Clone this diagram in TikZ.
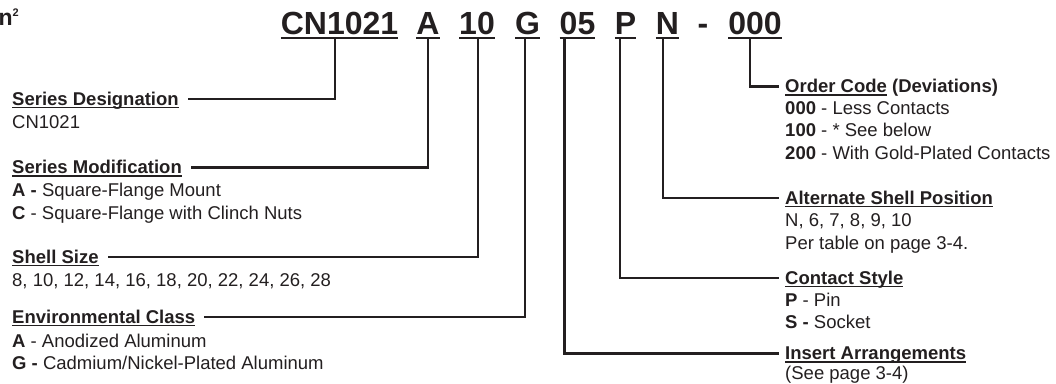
\documentclass[tikz,border=0pt]{standalone}
\usepackage{fontspec}
\setmainfont{Liberation Sans}
\usepackage{xcolor}
\usetikzlibrary{positioning}
\definecolor{ink}{HTML}{231F20}
% underlined header and code text
\newcommand{\uln}[1]{\setbox0\hbox{#1}\rlap{\rule[-3.2pt]{\wd0}{1.4pt}}\box0\relax}
\newcommand{\ulcode}[1]{\setbox0\hbox{#1}\rlap{\rule[-4.7pt]{\wd0}{2pt}}\box0\relax}

\begin{document}
\begin{tikzpicture}[
  x=1pt, y=-1pt,
  every node/.style={inner sep=0pt, text=ink},
  code/.style={font=\fontsize{32}{32}\selectfont\bfseries, anchor=base},
  hd/.style={font=\fontsize{18.5}{22.5}\selectfont\bfseries, anchor=base west},
  txt/.style={font=\fontsize{18.5}{22.5}\selectfont, anchor=base west, align=left},
  lead/.style={draw=ink, line width=2.6pt}
]
\useasboundingbox (0,0) rectangle (1056,383);
\node[font=\fontsize{23}{23}\selectfont\bfseries, anchor=base west] (title) at (-1.5,25) {n\raisebox{9pt}{\fontsize{11}{11}\selectfont 2}};
% part number
\node[code] (cn) at (339.5,34) {\ulcode{CN1021}};
\node[code] (mod) at (428,34) {\ulcode{A}};
\node[code] (size) at (477,34) {\ulcode{10}};
\node[code] (env) at (527.5,34) {\ulcode{G}};
\node[code] (ins) at (577.5,34) {\ulcode{05}};
\node[code] (cont) at (625.5,34) {\ulcode{P}};
\node[code] (pos) at (667.5,34) {\ulcode{N}};
\node[code] (dash) at (703,34) {-};
\node[code] (ord) at (755,34) {\ulcode{000}};
% left column (text nodes sit on their last line)
\node[hd] (sd) at (12,105) {\uln{Series Designation}};
\node[txt] (sdtxt) at ([yshift=-23pt]sd.base west) {CN1021};
\node[hd] (sm) at (12,173.5) {\uln{Series Modification}};
\node[txt] (smtxt) at ([yshift=-45.5pt]sm.base west) {\textbf{A -} Square-Flange Mount\\\textbf{C} - Square-Flange with Clinch Nuts};
\node[hd] (ss) at (12,263) {\uln{Shell Size}};
\node[txt] (sstxt) at ([yshift=-23pt]ss.base west) {8, 10, 12, 14, 16, 18, 20, 22, 24, 26, 28};
\node[hd] (ec) at (12,323) {\uln{Environmental Class}};
\node[txt] (ectxt) at ([yshift=-46.5pt]ec.base west) {\textbf{A} - Anodized Aluminum\\\textbf{G -} Cadmium/Nickel-Plated Aluminum};
% right column
\node[hd] (oc) at (785,92.5) {\uln{Order Code} (Deviations)};
\node[txt] (octxt) at ([yshift=-66.5pt]oc.base west) {\textbf{000} - Less Contacts\\\textbf{100} - * See below\\\textbf{200} - With Gold-Plated Contacts};
\node[hd] (as) at (785,204) {\uln{Alternate Shell Position}};
\node[txt] (astxt) at ([yshift=-45pt]as.base west) {N, 6, 7, 8, 9, 10\\Per table on page 3-4.};
\node[hd] (cs) at (785,284) {\uln{Contact Style}};
\node[txt] (cstxt) at ([yshift=-44.5pt]cs.base west) {\textbf{P} - Pin\\\textbf{S -} Socket};
\node[hd] (ia) at (785,359.5) {\uln{Insert Arrangements}};
\node[txt] (iatxt) at ([yshift=-20pt]ia.base west) {(See page 3-4)};
% leaders
\draw[lead] ([xshift=-4.5pt]cn.south) |- ([shift={(9pt,6pt)}]sd.base east);
\draw[lead] (mod.south) |- ([shift={(9pt,6pt)}]sm.base east);
\draw[lead] ([xshift=1pt]size.south) |- ([shift={(9pt,6pt)}]ss.base east);
\draw[lead] ([xshift=-2.5pt]env.south) |- ([shift={(9pt,6pt)}]ec.base east);
\draw[lead] ([xshift=-13pt]ins.south) |- ([shift={(-6pt,6pt)}]ia.base west);
\draw[lead] ([xshift=-5.5pt]cont.south) |- ([shift={(-6pt,6pt)}]cs.base west);
\draw[lead] ([xshift=-4.5pt]pos.south) |- ([shift={(-6pt,6pt)}]as.base west);
\draw[lead] ([xshift=-5pt]ord.south) |- ([shift={(-6pt,6pt)}]oc.base west);
\end{tikzpicture}
\end{document}
